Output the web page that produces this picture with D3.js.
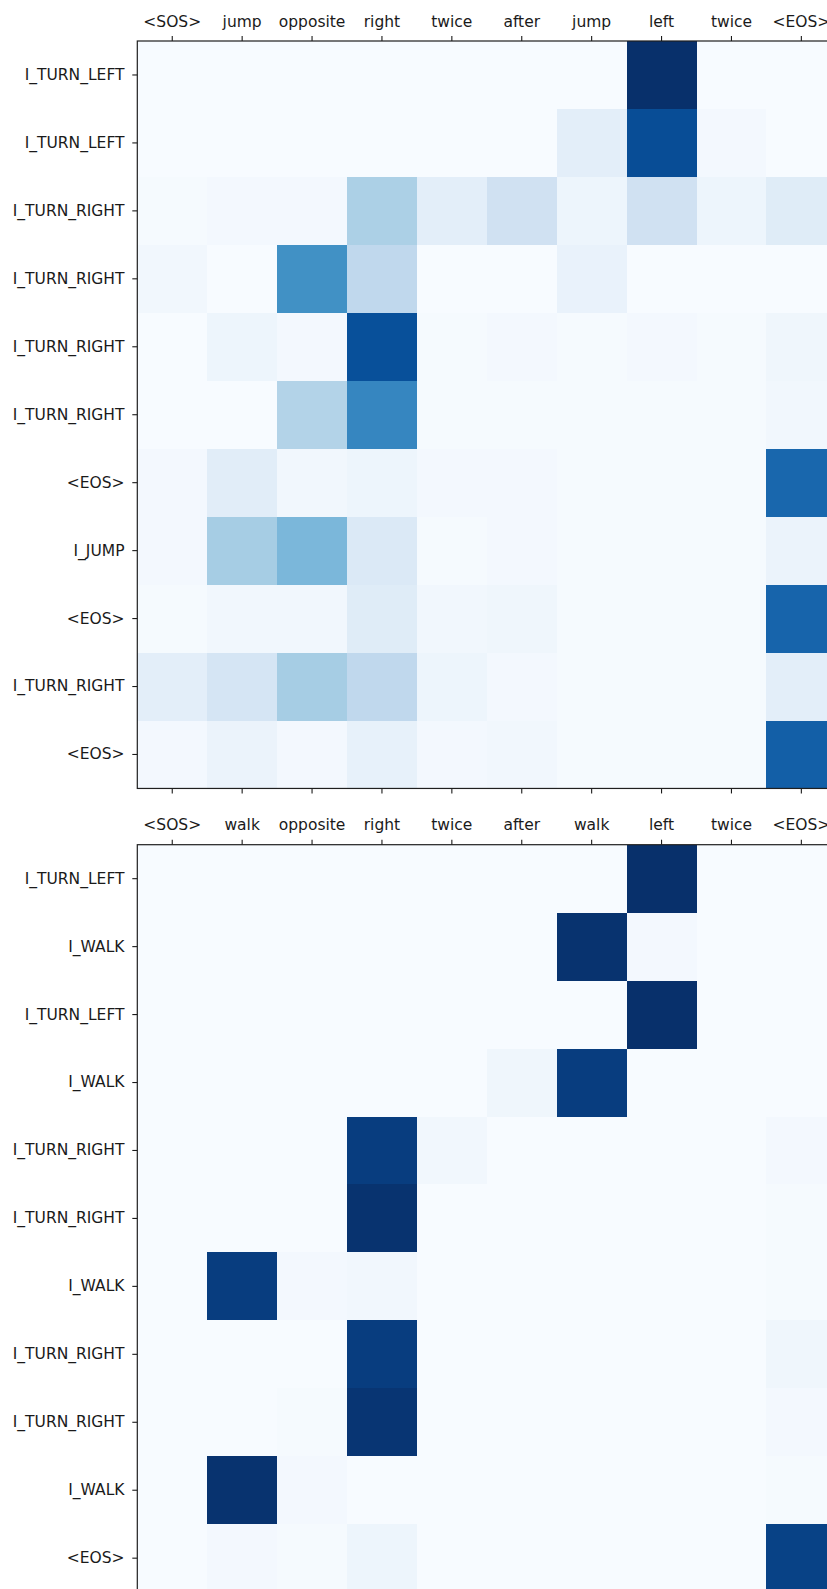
<!DOCTYPE html>
<html>
<head>
<meta charset="utf-8">
<script src="https://cdn.jsdelivr.net/npm/d3@7"></script>
<style>
  html, body { margin: 0; padding: 0; background: #ffffff; overflow: hidden; }
  svg { display: block; }
  .tick text { font-family: "DejaVu Sans", sans-serif; font-size: 15.5px; fill: #1a1a1a; }
  .tick line { stroke: #1a1a1a; stroke-width: 1.1; }
</style>
</head>
<body>
<svg id="chart" width="827" height="1589"></svg>
<script>
// ---- Attention map 1: "jump opposite right twice after jump left twice" ----
const jumpInput = ["<SOS>", "jump", "opposite", "right", "twice", "after", "jump", "left", "twice", "<EOS>"];
const jumpOutput = ["I_TURN_LEFT", "I_TURN_LEFT", "I_TURN_RIGHT", "I_TURN_RIGHT", "I_TURN_RIGHT",
                    "I_TURN_RIGHT", "<EOS>", "I_JUMP", "<EOS>", "I_TURN_RIGHT", "<EOS>"];
const jumpWeights = [
  [0.00, 0.00, 0.00, 0.00, 0.00, 0.00, 0.00, 1.00, 0.00, 0.00],
  [0.00, 0.00, 0.00, 0.00, 0.00, 0.00, 0.10, 0.89, 0.02, 0.00],
  [0.01, 0.02, 0.02, 0.33, 0.10, 0.20, 0.05, 0.20, 0.05, 0.12],
  [0.03, 0.00, 0.63, 0.27, 0.00, 0.00, 0.07, 0.00, 0.00, 0.00],
  [0.00, 0.05, 0.02, 0.88, 0.01, 0.02, 0.01, 0.02, 0.01, 0.04],
  [0.00, 0.00, 0.31, 0.67, 0.01, 0.01, 0.01, 0.01, 0.01, 0.03],
  [0.02, 0.11, 0.03, 0.05, 0.02, 0.02, 0.01, 0.01, 0.01, 0.79],
  [0.02, 0.35, 0.46, 0.14, 0.01, 0.02, 0.01, 0.01, 0.01, 0.06],
  [0.01, 0.03, 0.03, 0.12, 0.03, 0.04, 0.01, 0.01, 0.01, 0.80],
  [0.10, 0.17, 0.35, 0.27, 0.05, 0.02, 0.01, 0.01, 0.01, 0.10],
  [0.02, 0.06, 0.02, 0.08, 0.02, 0.03, 0.01, 0.01, 0.01, 0.82]
];

// ---- Attention map 2: "walk opposite right twice after walk left twice" ----
const walkInput = ["<SOS>", "walk", "opposite", "right", "twice", "after", "walk", "left", "twice", "<EOS>"];
const walkOutput = ["I_TURN_LEFT", "I_WALK", "I_TURN_LEFT", "I_WALK", "I_TURN_RIGHT", "I_TURN_RIGHT",
                    "I_WALK", "I_TURN_RIGHT", "I_TURN_RIGHT", "I_WALK", "<EOS>"];
const walkWeights = [
  [0.00, 0.00, 0.00, 0.00, 0.00, 0.00, 0.00, 1.00, 0.00, 0.00],
  [0.00, 0.00, 0.00, 0.00, 0.00, 0.00, 0.99, 0.02, 0.00, 0.00],
  [0.00, 0.00, 0.00, 0.00, 0.00, 0.00, 0.00, 1.00, 0.00, 0.00],
  [0.00, 0.00, 0.00, 0.00, 0.00, 0.04, 0.95, 0.00, 0.00, 0.00],
  [0.00, 0.00, 0.00, 0.95, 0.03, 0.00, 0.00, 0.00, 0.00, 0.02],
  [0.00, 0.00, 0.00, 0.99, 0.00, 0.00, 0.00, 0.00, 0.00, 0.01],
  [0.00, 0.95, 0.02, 0.03, 0.00, 0.00, 0.00, 0.00, 0.00, 0.01],
  [0.00, 0.00, 0.00, 0.95, 0.00, 0.00, 0.00, 0.00, 0.00, 0.04],
  [0.00, 0.00, 0.01, 0.98, 0.00, 0.00, 0.00, 0.00, 0.00, 0.02],
  [0.00, 0.99, 0.02, 0.00, 0.00, 0.00, 0.00, 0.00, 0.00, 0.01],
  [0.00, 0.02, 0.01, 0.05, 0.00, 0.00, 0.00, 0.00, 0.00, 0.93]
];

// Sequential "Blues" ramp, piecewise-linear in RGB between nine stops.
const bluesStops = ["#f7fbff", "#deebf7", "#c6dbef", "#9ecae1", "#6baed6",
                    "#4292c6", "#2171b5", "#08519c", "#08306b"];

const svg = d3.select("#chart");

const layout = {
  left: 137.3,
  cellW: 69.9,
  cellH: 67.95
};

function drawMap(id, top, inputs, outputs, weights, bottomTicks) {
  const nCols = inputs.length, nRows = outputs.length;
  const x = d3.scaleBand().domain(d3.range(nCols))
    .range([layout.left, layout.left + nCols * layout.cellW]);
  const y = d3.scaleBand().domain(d3.range(nRows))
    .range([top, top + nRows * layout.cellH]);

  const flat = weights.flat();
  const norm = d3.scaleLinear().domain([d3.min(flat), d3.max(flat)]).range([0, 1]).clamp(true);
  const ramp = d3.scaleLinear()
    .domain(bluesStops.map((_, i) => i / (bluesStops.length - 1)))
    .range(bluesStops)
    .interpolate(d3.interpolateRgb);
  const color = v => ramp(norm(v));

  const [x0, x1] = x.range();
  const [y0, y1] = y.range();

  svg.append("clipPath").attr("id", "clip-" + id)
    .append("rect").attr("x", x0).attr("y", y0).attr("width", x1 - x0).attr("height", y1 - y0);

  const g = svg.append("g").attr("clip-path", `url(#clip-${id})`);
  const cells = [];
  weights.forEach((row, r) => row.forEach((v, c) => cells.push({ r, c, v })));
  g.selectAll("rect").data(cells).join("rect")
    .attr("x", d => x(d.c))
    .attr("y", d => y(d.r))
    .attr("width", x.bandwidth())
    .attr("height", y.bandwidth())
    .attr("fill", d => color(d.v))
    .attr("shape-rendering", "crispEdges");

  // Column labels above the map
  const topAxis = d3.axisTop(x).tickSize(5).tickPadding(9.3).tickFormat(i => inputs[i]);
  svg.append("g").attr("transform", `translate(0,${y0})`).call(topAxis)
    .call(s => s.select(".domain").remove());

  // Bare ticks along the lower edge
  if (bottomTicks) {
    svg.append("g").attr("transform", `translate(0,${y1})`)
      .call(d3.axisBottom(x).tickSize(5).tickFormat(""))
      .call(s => s.select(".domain").remove());
  }

  // Row labels on the left
  const leftAxis = d3.axisLeft(y).tickSize(5).tickPadding(7.8).tickFormat(i => outputs[i]);
  svg.append("g").attr("transform", `translate(${x0},0)`).call(leftAxis)
    .call(s => s.select(".domain").remove());

  // Axes frame
  svg.append("rect")
    .attr("x", x0).attr("y", y0).attr("width", x1 - x0).attr("height", y1 - y0)
    .attr("fill", "none").attr("stroke", "#1f1f1f").attr("stroke-width", 1.2);
}

drawMap("jump", 41.0, jumpInput, jumpOutput, jumpWeights, true);
drawMap("walk", 844.7, walkInput, walkOutput, walkWeights, true);
</script>
</body>
</html>
